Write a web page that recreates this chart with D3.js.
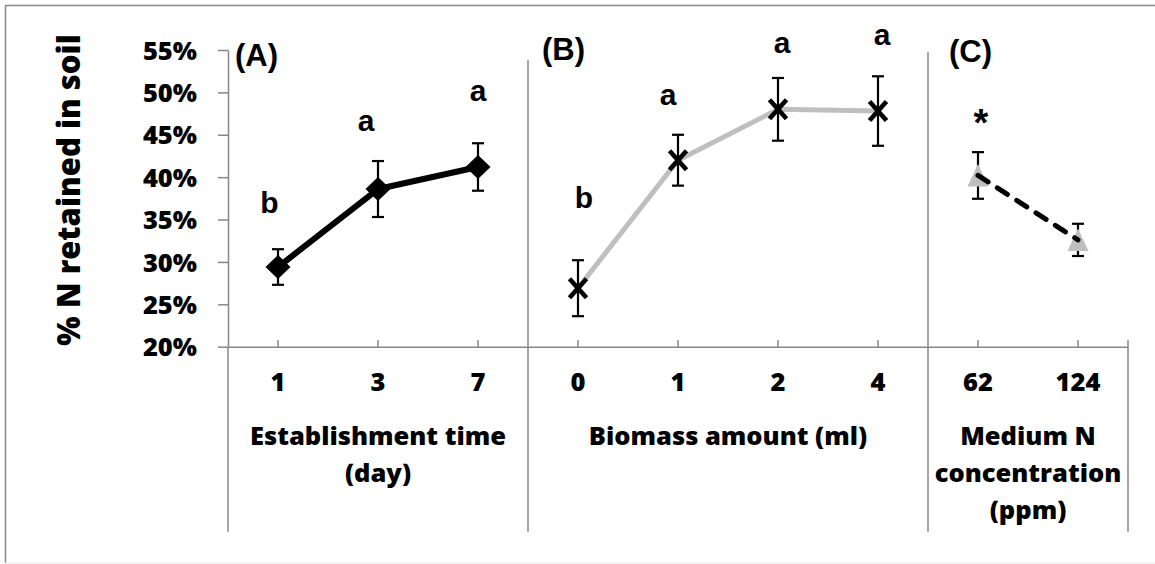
<!DOCTYPE html>
<html>
<head>
<meta charset="utf-8">
<script src="https://cdn.jsdelivr.net/npm/d3@7"></script>
<style>
  html, body { margin: 0; padding: 0; background: #fff; }
  svg { display: block; }
</style>
</head>
<body>
<svg id="chart" width="1155" height="564"></svg>
<script>
// ---- Data -------------------------------------------------------------
// (A) establishment time (day)
const timeLabels  = ["1", "3", "7"];
const timeMeans   = [29.4, 38.6, 41.2];
const timeErrors  = [2.1, 3.3, 2.8];
const timeLetters = ["b", "a", "a"];

// (B) biomass amount (ml)
const biomassLabels  = ["0", "1", "2", "4"];
const biomassMeans   = [26.9, 42.0, 48.0, 47.8];
const biomassErrors  = [3.3, 3.0, 3.7, 4.1];
const biomassLetters = ["b", "a", "a", "a"];

// (C) medium N concentration (ppm)
const mediumLabels  = ["62", "124"];
const mediumMeans   = [40.2, 32.6];
const mediumErrors  = [2.75, 1.9];
const mediumLetters = ["*", ""];

const yTicks     = [20, 25, 30, 35, 40, 45, 50, 55];
const panelTags  = ["(A)", "(B)", "(C)"];
const axisTitles = [["Establishment time", "(day)"], ["Biomass amount (ml)"], ["Medium N", "concentration", "(ppm)"]];
const yTitle     = "% N retained in soil";

// ---- Layout -----------------------------------------------------------
const W = 1155, H = 564;
const plot = { left: 228, right: 1128, top: 50, bottom: 346.7 };
const floorY = 531.7;                 // bottom of the category dividers
const dividerTops = [60, 52];         // top of the A|B and B|C dividers
const tagOffsets = [[7, 66], [14, 60], [21, 62]];  // panel tag x-offset / baseline
const letterOffsets = [
  [[-8.5, -36], [-12, -30], [0, -42.5]],
  [[6, -52.7], [-10, -30], [4, -24.7], [4, -31]],
  [[3, -16], [0, 0]]
];
const axisGray = "#878787";
const uiFont = "'Open Sans', 'Noto Sans', sans-serif";
const uiSize = 25.5;
const markFont = "'Liberation Sans', Arial, sans-serif";

const panels = [
  { id: "A", labels: timeLabels,    means: timeMeans,    errors: timeErrors,    letters: timeLetters,
    line: { color: "#000", width: 6, dash: null }, marker: "diamond" },
  { id: "B", labels: biomassLabels, means: biomassMeans, errors: biomassErrors, letters: biomassLetters,
    line: { color: "#bfbfbf", width: 5, dash: null }, marker: "cross" },
  { id: "C", labels: mediumLabels,  means: mediumMeans,  errors: mediumErrors,  letters: mediumLetters,
    line: { color: "#000", width: 5, dash: "12,11" }, marker: "triangle" }
];

// ---- Scales -----------------------------------------------------------
const keys = panels.flatMap(p => p.labels.map(l => p.id + ":" + l));
const x = d3.scaleBand().domain(keys).range([plot.left, plot.right]).paddingInner(0).paddingOuter(0);
const xc = k => x(k) + x.bandwidth() / 2;
const y = d3.scaleLinear().domain([20, 55]).range([plot.bottom, plot.top]);

const svg = d3.select("#chart");

// ---- Frame ------------------------------------------------------------
svg.append("line").attr("x1", 5).attr("x2", W).attr("y1", 5.5).attr("y2", 5.5)
  .attr("stroke", "#8c8c8c").attr("stroke-width", 1.5);
svg.append("line").attr("x1", 5.5).attr("x2", 5.5).attr("y1", 5).attr("y2", H - 1)
  .attr("stroke", "#8c8c8c").attr("stroke-width", 1.5);
svg.append("line").attr("x1", 5).attr("x2", W).attr("y1", H - 1).attr("y2", H - 1)
  .attr("stroke", "#e8e8e8").attr("stroke-width", 1);

// ---- Y axis -----------------------------------------------------------
const gy = svg.append("g")
  .attr("transform", `translate(${plot.left},0)`)
  .call(d3.axisLeft(y).tickValues(yTicks).tickFormat(d => d + "%")
    .tickSize(10).tickSizeOuter(0).tickPadding(21));
gy.select(".domain").attr("stroke", axisGray).attr("stroke-width", 1.5);
gy.selectAll(".tick line").attr("stroke", axisGray).attr("stroke-width", 1.5);
gy.selectAll(".tick text")
  .attr("font-family", uiFont).attr("font-size", uiSize).attr("font-weight", 800)
  .attr("fill", "#000").attr("dy", "0.36em");

svg.append("text")
  .attr("transform", `translate(80,${(43 + 337) / 2}) rotate(-90)`)
  .attr("text-anchor", "middle")
  .attr("font-family", uiFont).attr("font-size", 31).attr("font-weight", 800)
  .attr("fill", "#000")
  .text(yTitle);

// ---- X axis -----------------------------------------------------------
const gx = svg.append("g")
  .attr("transform", `translate(0,${y(20)})`)
  .call(d3.axisBottom(x).tickSize(-6.7).tickSizeOuter(0).tickFormat(k => k.split(":")[1]));
gx.select(".domain").attr("stroke", axisGray).attr("stroke-width", 1.5);
gx.selectAll(".tick line").attr("stroke", axisGray).attr("stroke-width", 1.5);
gx.selectAll(".tick text")
  .attr("font-family", uiFont).attr("font-size", uiSize).attr("font-weight", 800)
  .attr("fill", "#000").attr("y", 44.3).attr("dy", 0);

// Category group dividers and group titles
panels.forEach((p, i) => {
  const first = p.id + ":" + p.labels[0];
  const last = p.id + ":" + p.labels[p.labels.length - 1];
  const x0 = x(first), x1 = x(last) + x.bandwidth();
  const top = i === 0 ? y(20) : dividerTops[i - 1];
  svg.append("line").attr("x1", x0).attr("x2", x0).attr("y1", top).attr("y2", floorY)
    .attr("stroke", axisGray).attr("stroke-width", 1.5);
  if (i === panels.length - 1) {
    svg.append("line").attr("x1", x1).attr("x2", x1).attr("y1", y(20) - 6.7).attr("y2", floorY)
      .attr("stroke", axisGray).attr("stroke-width", 1.5);
  }
  const t = svg.append("text")
    .attr("text-anchor", "middle")
    .attr("font-family", uiFont).attr("font-size", uiSize).attr("font-weight", 800)
    .attr("fill", "#000");
  axisTitles[i].forEach((line, j) => {
    t.append("tspan").attr("x", (x0 + x1) / 2).attr("y", 444.5 + j * 37).text(line);
  });
  // panel tag
  svg.append("text")
    .attr("x", x0 + tagOffsets[i][0]).attr("y", tagOffsets[i][1])
    .attr("font-family", markFont).attr("font-size", 31).attr("font-weight", 700)
    .attr("fill", "#000")
    .text(panelTags[i]);
});

// ---- Series -----------------------------------------------------------
const markerPath = {
  diamond: (cx, cy) => `M${cx - 12.5},${cy}L${cx},${cy - 12}L${cx + 12.5},${cy}L${cx},${cy + 12}Z`,
  triangle: (cx, cy) => `M${cx - 10.5},${cy + 11}L${cx},${cy - 11.5}L${cx + 10.5},${cy + 11}Z`
};

panels.forEach((p, i) => {
  const pts = p.labels.map((l, j) => ({
    cx: xc(p.id + ":" + l), mean: p.means[j], err: p.errors[j], letter: p.letters[j], j
  }));
  const g = svg.append("g");

  const lineGen = d3.line().x(d => d.cx).y(d => y(d.mean));
  const drawLine = () => g.append("path").datum(pts)
    .attr("d", lineGen).attr("fill", "none")
    .attr("stroke", p.line.color).attr("stroke-width", p.line.width)
    .attr("stroke-linejoin", "round")
    .attr("stroke-linecap", p.line.dash ? "round" : "butt")
    .attr("stroke-dasharray", p.line.dash);

  if (p.marker !== "triangle") drawLine();

  // error bars
  const eb = g.selectAll(".err").data(pts).join("g").attr("class", "err")
    .attr("stroke", "#000").attr("stroke-width", 2.2);
  eb.append("line").attr("x1", d => d.cx).attr("x2", d => d.cx)
    .attr("y1", d => y(d.mean + d.err)).attr("y2", d => y(d.mean - d.err));
  eb.append("line").attr("x1", d => d.cx - 6).attr("x2", d => d.cx + 6)
    .attr("y1", d => y(d.mean + d.err)).attr("y2", d => y(d.mean + d.err));
  eb.append("line").attr("x1", d => d.cx - 6).attr("x2", d => d.cx + 6)
    .attr("y1", d => y(d.mean - d.err)).attr("y2", d => y(d.mean - d.err));

  // markers
  if (p.marker === "diamond") {
    g.selectAll(".mk").data(pts).join("path").attr("class", "mk")
      .attr("d", d => markerPath.diamond(d.cx, y(d.mean))).attr("fill", "#000");
  } else if (p.marker === "triangle") {
    g.selectAll(".mk").data(pts).join("path").attr("class", "mk")
      .attr("d", d => markerPath.triangle(d.cx, y(d.mean))).attr("fill", "#bfbfbf");
    drawLine();
  } else {
    const mk = g.selectAll(".mk").data(pts).join("g").attr("class", "mk")
      .attr("stroke", "#000").attr("stroke-width", 4.6);
    mk.append("line").attr("x1", d => d.cx - 8.5).attr("x2", d => d.cx + 8.5)
      .attr("y1", d => y(d.mean) - 9.5).attr("y2", d => y(d.mean) + 9.5);
    mk.append("line").attr("x1", d => d.cx - 8.5).attr("x2", d => d.cx + 8.5)
      .attr("y1", d => y(d.mean) + 9.5).attr("y2", d => y(d.mean) - 9.5);
  }

  // significance letters
  g.selectAll(".sig").data(pts.filter(d => d.letter)).join("text").attr("class", "sig")
    .attr("x", d => d.cx + letterOffsets[i][d.j][0])
    .attr("y", d => y(d.mean + d.err) + letterOffsets[i][d.j][1])
    .attr("text-anchor", "middle")
    .attr("font-family", markFont).attr("font-size", d => d.letter === "*" ? 38 : 30)
    .attr("font-weight", 700)
    .attr("fill", "#000")
    .text(d => d.letter);
});
</script>
</body>
</html>
